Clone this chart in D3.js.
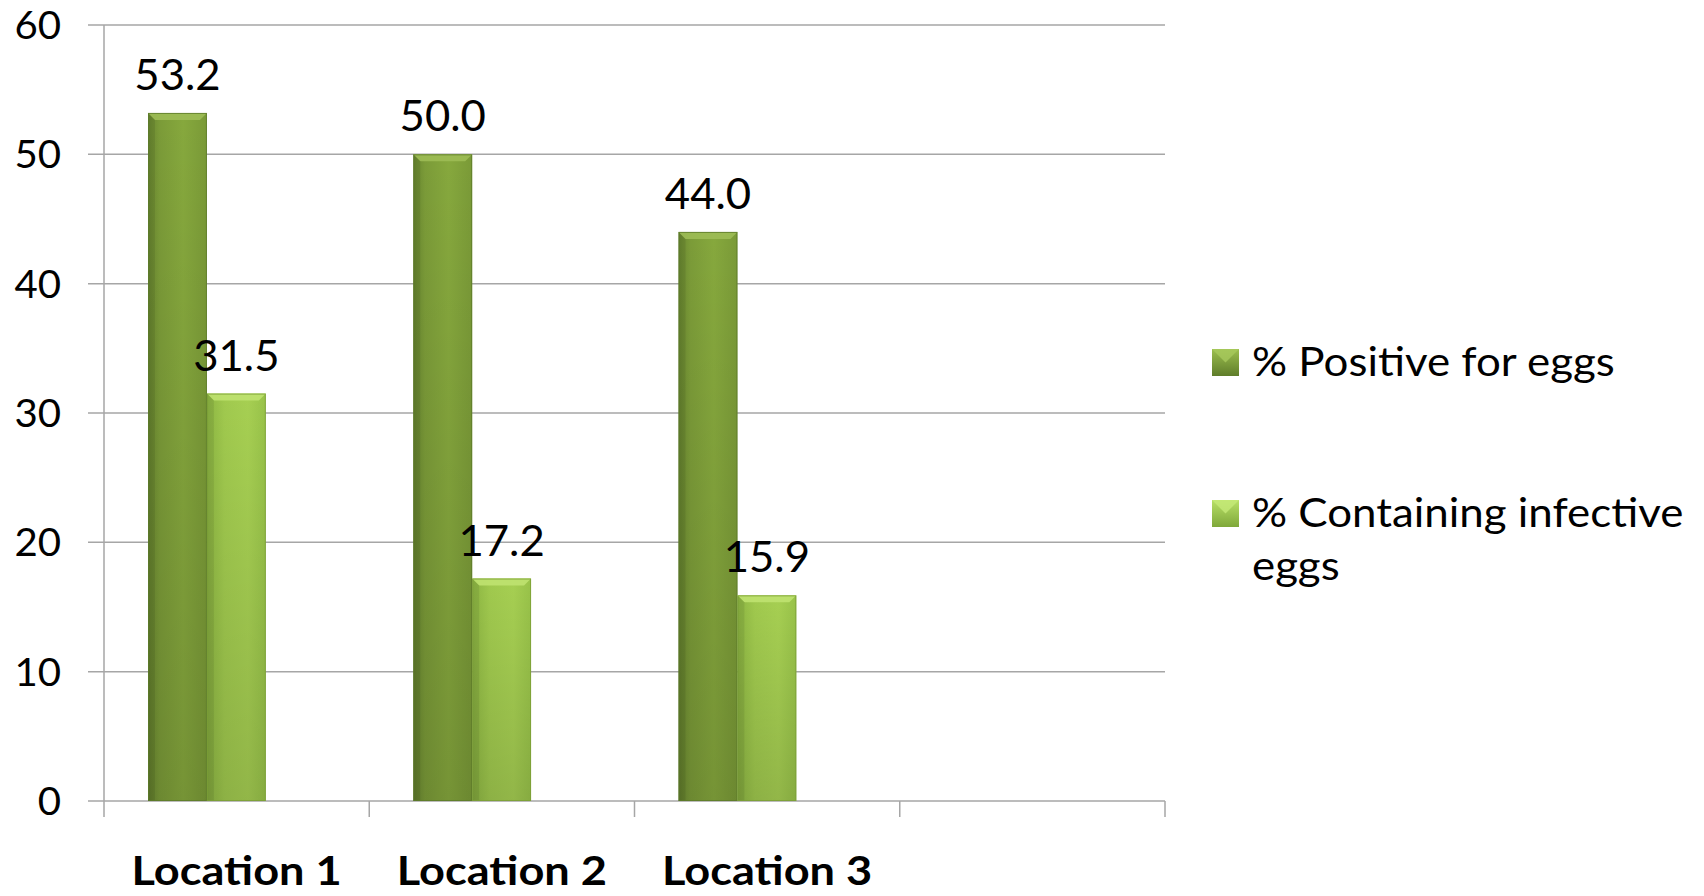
<!DOCTYPE html>
<html>
<head>
<meta charset="utf-8">
<script src="https://cdn.jsdelivr.net/npm/d3@7"></script>
<style>
  html, body { margin: 0; padding: 0; background: #ffffff; }
  svg { display: block; }
  text { font-family: Lato, "Open Sans", sans-serif; fill: #000; }
</style>
</head>
<body>
<svg id="chart" width="1704" height="896"></svg>
<script>
// ---- data ----
const categories = ["Location 1", "Location 2", "Location 3", ""];
const seriesNames = ["% Positive for eggs", "% Containing infective eggs"];
const positiveForEggs = [53.2, 50.0, 44.0];
const containingInfective = [31.5, 17.2, 15.9];
const yTicks = [0, 10, 20, 30, 40, 50, 60];
const legendLines = [["% Positive for eggs"], ["% Containing infective", "eggs"]];

const series = [positiveForEggs, containingInfective];

const svg = d3.select("#chart");
const plot = { left: 104, right: 1165, top: 25, bottom: 801 };

const x = d3.scaleBand().domain(categories).range([plot.left, plot.right]).paddingInner(0).paddingOuter(0);
const y = d3.scaleLinear().domain([0, 60]).range([plot.bottom, plot.top]);

// helper: text stretched horizontally around its anchor
function stretched(parent, tx, ty, sx) {
  return parent.append("text").attr("transform", `translate(${tx},${ty}) scale(${sx},1)`);
}

// gradients
const defs = svg.append("defs");
const grads = [
  { id: "g0", stops: [[0, "#67852f"], [0.2, "#7b9b38"], [0.6, "#86a83d"], [1, "#7a9a37"]] },
  { id: "g1", stops: [[0, "#8cb542"], [0.3, "#a0c94e"], [0.7, "#a6cf52"], [1, "#98c249"]] }
];
grads.forEach(g => {
  const lg = defs.append("linearGradient").attr("id", g.id).attr("x1", 0).attr("x2", 1).attr("y1", 0).attr("y2", 0);
  g.stops.forEach(s => lg.append("stop").attr("offset", s[0]).attr("stop-color", s[1]));
});
const shade = defs.append("linearGradient").attr("id", "shade").attr("x1", 0).attr("x2", 0).attr("y1", 0).attr("y2", 1);
shade.append("stop").attr("offset", 0).attr("stop-color", "#000").attr("stop-opacity", 0);
shade.append("stop").attr("offset", 1).attr("stop-color", "#000").attr("stop-opacity", 0.12);
const lgLeg = [
  { id: "lg0", top: "#9cbf4f", bot: "#5f7d2a" },
  { id: "lg1", top: "#b8e067", bot: "#7fa83a" }
];
lgLeg.forEach(g => {
  const lg = defs.append("linearGradient").attr("id", g.id).attr("x1", 0).attr("x2", 0).attr("y1", 0).attr("y2", 1);
  lg.append("stop").attr("offset", 0).attr("stop-color", g.top);
  lg.append("stop").attr("offset", 1).attr("stop-color", g.bot);
});

// gridlines
svg.append("g").selectAll("line").data(yTicks).join("line")
  .attr("x1", plot.left - 16).attr("x2", plot.right)
  .attr("y1", d => y(d)).attr("y2", d => y(d))
  .attr("stroke", "#a6a6a6").attr("stroke-width", 1.5);

// y axis line
svg.append("line").attr("x1", plot.left).attr("x2", plot.left)
  .attr("y1", plot.top).attr("y2", plot.bottom)
  .attr("stroke", "#a6a6a6").attr("stroke-width", 1.5);

// y tick labels
const yLab = svg.append("g");
yTicks.forEach(t => {
  stretched(yLab, 61, y(t), 1.03)
    .attr("dy", "0.36em").attr("text-anchor", "end").attr("font-size", 39)
    .text(t);
});

// x category ticks (band boundaries)
const boundaries = categories.map(c => x(c)).concat([x(categories[categories.length - 1]) + x.bandwidth()]);
svg.append("g").selectAll("line").data(boundaries).join("line")
  .attr("x1", d => d).attr("x2", d => d)
  .attr("y1", plot.bottom).attr("y2", plot.bottom + 16)
  .attr("stroke", "#a6a6a6").attr("stroke-width", 1.5);

// bars
const bw = x.bandwidth();
const barW = bw * 0.222;
const barOff = bw * 0.166;
const barsG = svg.append("g");
const valG = svg.append("g");
series.forEach((vals, si) => {
  vals.forEach((v, ci) => {
    const bx = x(categories[ci]) + barOff + si * barW;
    const by = y(v);
    const bh = y(0) - y(v);
    const g = barsG.append("g");
    g.append("rect").attr("x", bx).attr("y", by).attr("width", barW).attr("height", bh)
      .attr("fill", `url(#g${si})`);
    g.append("rect").attr("x", bx).attr("y", by).attr("width", barW).attr("height", bh)
      .attr("fill", "url(#shade)");
    const bev = 7;
    g.append("path")
      .attr("d", `M${bx},${by} L${bx + barW},${by} L${bx + barW - bev},${by + bev} L${bx + bev},${by + bev} Z`)
      .attr("fill", si === 0 ? "#9dbd55" : "#bfe270").attr("opacity", 0.9);
    g.append("path")
      .attr("d", `M${bx},${by} L${bx + bev},${by + bev} L${bx + bev},${by + bh} L${bx},${by + bh} Z`)
      .attr("fill", "#000").attr("opacity", 0.07);
    g.append("rect").attr("x", bx + 0.5).attr("y", by + 0.5).attr("width", barW - 1).attr("height", bh - 1)
      .attr("fill", "none").attr("stroke", si === 0 ? "#5d7a29" : "#7a9e36").attr("stroke-width", 1).attr("opacity", 0.8);
    stretched(valG, bx + barW / 2, by - 23, 1.04)
      .attr("text-anchor", "middle").attr("font-size", 42)
      .text(v.toFixed(1));
  });
});

// category labels
const catG = svg.append("g");
categories.filter(c => c !== "").forEach(c => {
  stretched(catG, x(c) + bw / 2, 885, 1.13)
    .attr("text-anchor", "middle").attr("font-size", 40).attr("font-weight", 700)
    .text(c);
});

// legend
const legendPos = [{ sq: 349, base: 376 }, { sq: 500, base: 527 }];
const legG = svg.append("g");
legendLines.forEach((lines, i) => {
  const p = legendPos[i];
  legG.append("rect").attr("x", 1212).attr("y", p.sq).attr("width", 27).attr("height", 27)
    .attr("fill", `url(#lg${i})`);
  legG.append("path")
    .attr("d", `M1212,${p.sq} L1239,${p.sq} L1225.5,${p.sq + 13.5} Z`)
    .attr("fill", i === 0 ? "#a8c95c" : "#c6ea78").attr("opacity", 0.8);
  lines.forEach((ln, li) => {
    stretched(legG, 1252, p.base + li * 53, 1.07)
      .attr("font-size", 41)
      .text(ln);
  });
});
</script>
</body>
</html>
